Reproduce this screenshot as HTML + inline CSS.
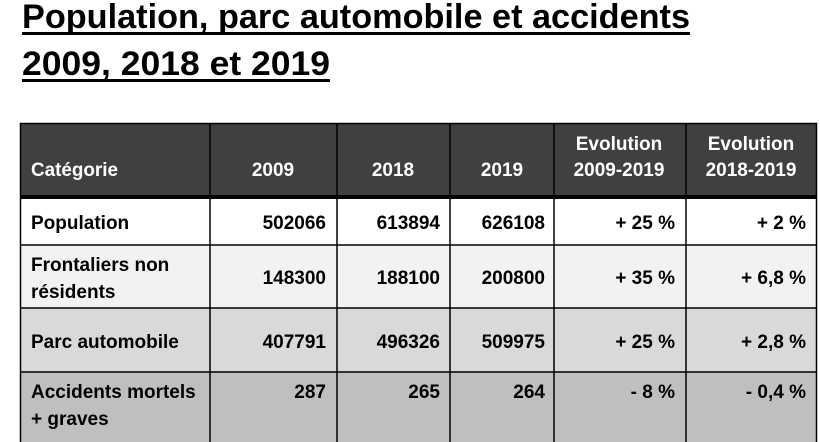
<!DOCTYPE html>
<html><head><meta charset="utf-8"><style>
html,body{margin:0;padding:0;background:#fff;}
svg{display:block;}
text{font-family:"Liberation Sans",sans-serif;font-weight:bold;}
</style></head><body>
<svg width="820" height="442" viewBox="0 0 820 442" xmlns="http://www.w3.org/2000/svg">
<rect width="820" height="442" fill="#fff"/>
<text x="22" y="28" font-size="34" textLength="668" lengthAdjust="spacingAndGlyphs" fill="#000">Population, parc automobile et accidents</text>
<rect x="22" y="32" width="668" height="3" fill="#000"/>
<text x="22" y="75" font-size="34" textLength="308" lengthAdjust="spacingAndGlyphs" fill="#000">2009, 2018 et 2019</text>
<rect x="22" y="79" width="308" height="3" fill="#000"/>

<rect x="20" y="123" width="797" height="74" fill="#404040"/>
<rect x="20" y="197" width="797" height="48" fill="#ffffff"/>
<rect x="20" y="245" width="797" height="63" fill="#f2f2f2"/>
<rect x="20" y="308" width="797" height="64" fill="#d9d9d9"/>
<rect x="20" y="372" width="797" height="70" fill="#bfbfbf"/>

<g stroke="#000" stroke-width="1.5" fill="none">
<rect x="20.5" y="123.5" width="796" height="330"/>
<line x1="210" y1="123" x2="210" y2="442"/>
<line x1="337" y1="123" x2="337" y2="442"/>
<line x1="450" y1="123" x2="450" y2="442"/>
<line x1="554" y1="123" x2="554" y2="442"/>
<line x1="686" y1="123" x2="686" y2="442"/>
<line x1="20" y1="245" x2="817" y2="245"/>
<line x1="20" y1="308" x2="817" y2="308"/>
<line x1="20" y1="372" x2="817" y2="372"/>
</g>
<rect x="20" y="195" width="797" height="4" fill="#000"/>

<g font-size="19" fill="#fff">
<text x="31" y="176" textLength="87" lengthAdjust="spacingAndGlyphs">Catégorie</text>
<text x="273" y="176" text-anchor="middle">2009</text>
<text x="393" y="176" text-anchor="middle">2018</text>
<text x="502" y="176" text-anchor="middle">2019</text>
<text x="619" y="150" text-anchor="middle">Evolution</text>
<text x="619" y="176" text-anchor="middle">2009-2019</text>
<text x="751" y="150" text-anchor="middle">Evolution</text>
<text x="751" y="176" text-anchor="middle">2018-2019</text>
</g>
<g font-size="19" fill="#000">
<text x="31" y="229">Population</text>
<text x="31" y="271">Frontaliers non</text>
<text x="31" y="298">résidents</text>
<text x="31" y="348">Parc automobile</text>
<text x="31" y="398">Accidents mortels</text>
<text x="31" y="425">+ graves</text>
</g>
<g font-size="19" fill="#000" text-anchor="end">
<text x="326" y="229">502066</text><text x="440" y="229">613894</text><text x="545" y="229">626108</text><text x="675" y="229">+ 25 %</text><text x="806" y="229">+ 2 %</text>
<text x="326" y="284">148300</text><text x="440" y="284">188100</text><text x="545" y="284">200800</text><text x="675" y="284">+ 35 %</text><text x="806" y="284">+ 6,8 %</text>
<text x="326" y="348">407791</text><text x="440" y="348">496326</text><text x="545" y="348">509975</text><text x="675" y="348">+ 25 %</text><text x="806" y="348">+ 2,8 %</text>
<text x="326" y="398">287</text><text x="440" y="398">265</text><text x="545" y="398">264</text><text x="675" y="398">- 8 %</text><text x="806" y="398">- 0,4 %</text>
</g>
</svg>
</body></html>
